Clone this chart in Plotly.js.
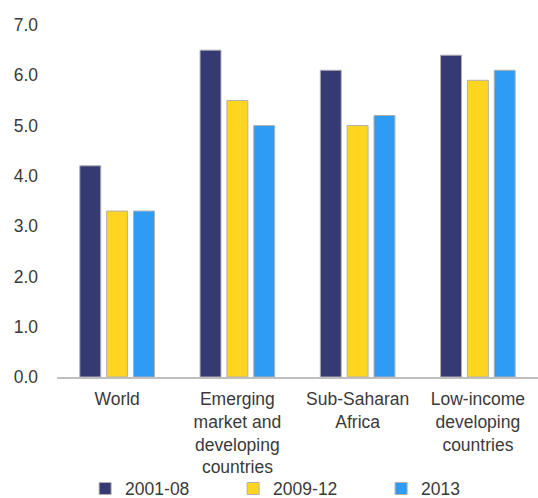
<!DOCTYPE html>
<html><head><meta charset="utf-8">
<script src="https://cdn.plot.ly/plotly-3.0.1.min.js"></script>
<style>html,body{margin:0;padding:0;background:#fff}#chart{width:538px;height:498px}</style>
</head><body><div id="chart"></div>
<script>
const categories = ["World", "Emerging<br>market and<br>developing<br>countries", "Sub-Saharan<br>Africa", "Low-income<br>developing<br>countries"];
const seriesNames = ["2001-08", "2009-12", "2013"];
const values2001_08 = [4.2, 6.5, 6.1, 6.4];
const values2009_12 = [3.3, 5.5, 5.0, 5.9];
const values2013 = [3.3, 5.0, 5.2, 6.1];
const tickVals = [0, 1, 2, 3, 4, 5, 6, 7];
const tickText = ["0.0", "1.0", "2.0", "3.0", "4.0", "5.0", "6.0", "7.0"];
const colors = ["#353a72", "#ffd520", "#2e9bf5"];
const allValues = [values2001_08, values2009_12, values2013];

const traces = allValues.map((v, i) => ({
  type: "bar", x: categories, y: v, name: seriesNames[i],
  marker: {color: colors[i], line: {color: "#b0b0b0", width: 1}},
  hoverinfo: "y"
}));

const layout = {
  width: 538, height: 498,
  margin: {l: 57, r: 0, t: 25, b: 121, autoexpand: false},
  paper_bgcolor: "#fff", plot_bgcolor: "#fff",
  font: {family: "Liberation Sans, Arial, sans-serif", size: 17.5, color: "#3a3a3a"},
  barmode: "group", bargap: 0.33, bargroupgap: 0.22,
  xaxis: {showline: true, linecolor: "#bfbfbf", linewidth: 2, ticks: "", showgrid: false,
          automargin: false, ticklabelstandoff: 5, tickfont: {size: 17.5, color: "#3a3a3a"}},
  yaxis: {range: [0, 7], tickvals: tickVals, ticktext: tickText, showgrid: false, zeroline: false,
          automargin: false, showline: false, ticks: "", ticklabelstandoff: 18,
          tickfont: {size: 17.5, color: "#3a3a3a"}},
  legend: {orientation: "h", x: 0.52, xanchor: "center", y: -0.266, yanchor: "top",
           bgcolor: "rgba(0,0,0,0)",
           font: {size: 17.5, color: "#3a3a3a"}, entrywidth: 103, itemwidth: 30},
  showlegend: true
};
Plotly.newPlot("chart", traces, layout, {displayModeBar: false, staticPlot: true});
</script></body></html>
